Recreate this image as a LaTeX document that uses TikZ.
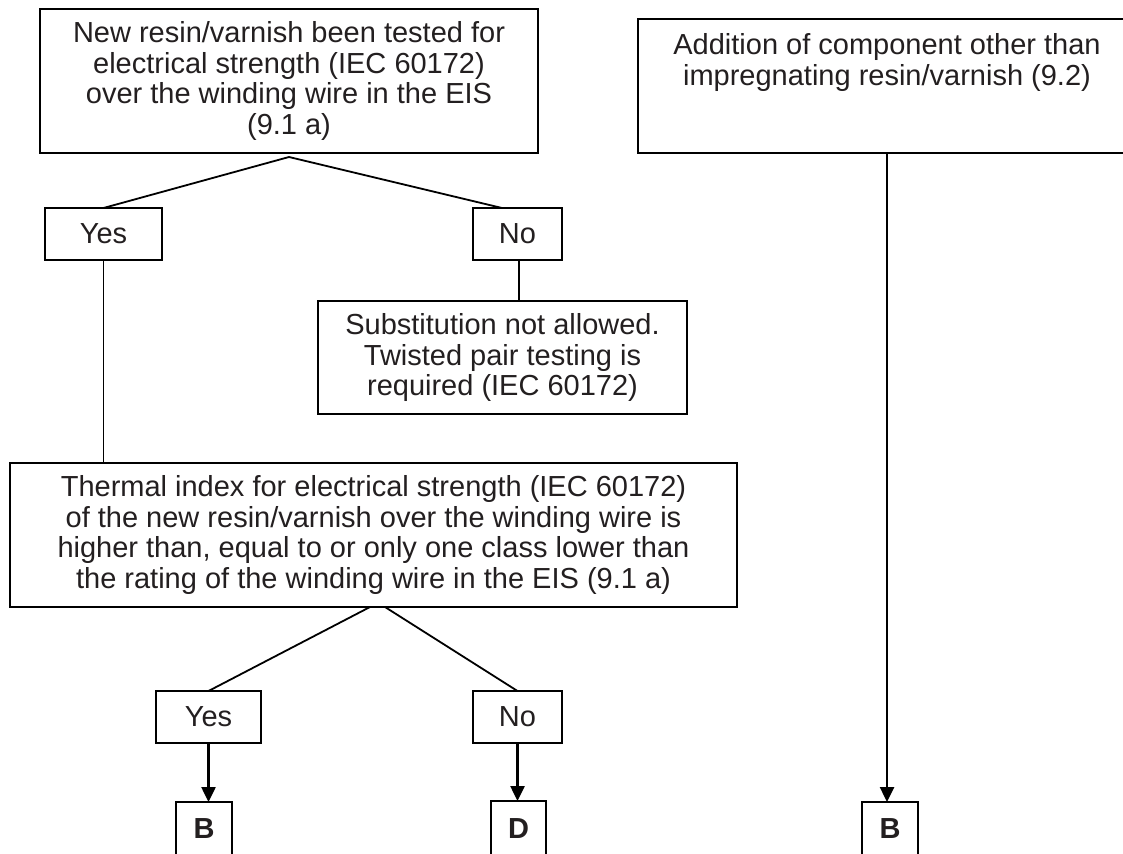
\documentclass[tikz,border=0pt]{standalone}
\usepackage{fontspec}
\setmainfont{Liberation Sans}
\usetikzlibrary{arrows.meta}
\definecolor{ink}{HTML}{231F20}
\begin{document}
\begin{tikzpicture}[x=1pt,y=-1pt,
  txt/.style={inner sep=0pt, outer sep=0pt, align=center, text=ink,
    font=\fontsize{29}{30.5}\selectfont},
  box/.style={txt, draw=black, line width=1.8pt},
  tag/.style={box, font=\bfseries\fontsize{29}{30.5}\selectfont},
  link/.style={draw=black, line width=1.8pt},
  flow/.style={draw=black, line width=2.5pt, -{Triangle[length=15pt,width=14pt]}}]
\fill[white] (0,0) rectangle (1123,853);
\useasboundingbox (0,0) rectangle (1123,853);

% question boxes
\node[box, minimum width=498pt, minimum height=144pt] (tl) at (289,81)
  {New resin/varnish been tested for\\electrical strength (IEC 60172)\\over the winding wire in the EIS\\(9.1 a)};
\node[box, minimum width=498pt, minimum height=134pt] (tr) at (887,86) {};
\node[txt, anchor=north] (trtext) at (887,33.9)
  {Addition of component other than\\impregnating resin/varnish (9.2)};

% first decision
\node[box, minimum width=117pt, minimum height=52pt] (yes1) at (103.5,234) {Yes};
\node[box, minimum width=89pt, minimum height=52pt] (no1) at (517.5,234) {No};
\node[box, minimum width=369pt, minimum height=113pt] (sub) at (502.5,357.5)
  {Substitution not allowed.\\Twisted pair testing is\\required (IEC 60172)};

% thermal index question
\node[box, minimum width=727pt, minimum height=144pt] (therm) at (373.5,535)
  {Thermal index for electrical strength (IEC 60172)\\of the new resin/varnish over the winding wire is\\higher than, equal to or only one class lower than\\the rating of the winding wire in the EIS (9.1 a)};

% second decision
\node[box, minimum width=105pt, minimum height=52pt] (yes2) at (208.5,717) {Yes};
\node[box, minimum width=89pt, minimum height=52pt] (no2) at (517.5,717) {No};

% outcome markers (their lower edges run off the page)
\node[tag, minimum width=56pt, minimum height=58pt, text depth=4pt] (b1) at (204,831) {B};
\node[tag, minimum width=55pt, minimum height=59pt, text depth=4pt] (d) at (518.5,830.5) {D};
\node[tag, minimum width=56pt, minimum height=58pt, text depth=4pt] (b2) at (890,831) {B};

% connectors
\draw[link] ([yshift=-4pt]tl.south) -- (yes1.north);
\draw[link] ([yshift=-4pt]tl.south) -- ([xshift=-15.5pt]no1.north);
\draw[link] (yes1.south) -- (yes1.south |- therm.north);
\draw[link] ([xshift=1.5pt]no1.south) -- ([xshift=1.5pt]no1.south |- sub.north);
\draw[link] ([xshift=-3.5pt]therm.south) -- (yes2.north);
\draw[link] ([xshift=11.5pt]therm.south) -- (no2.north);
\draw[flow] (yes2.south) -- (yes2.south |- b1.north);
\draw[flow] (no2.south) -- (no2.south |- d.north);
\draw[flow] (tr.south) -- (tr.south |- b2.north);
\end{tikzpicture}
\end{document}
